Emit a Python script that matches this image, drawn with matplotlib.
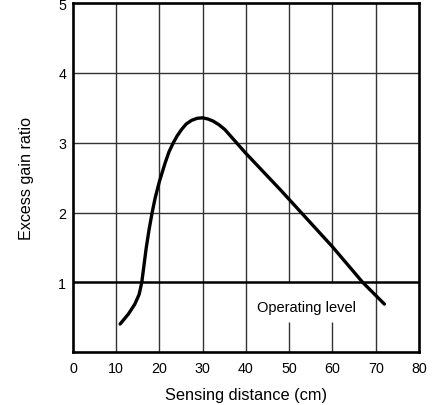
import matplotlib
import numpy as np

matplotlib.use("Agg")
import matplotlib.pyplot as plt

plt.rcParams['font.family'] = ['Liberation Sans', 'DejaVu Sans']

# Data
distance_cm = [10.9, 12.8, 14.3, 15.3, 15.9, 16.3, 16.9, 17.6, 18.3, 19.0, 20.0,
               21.3, 22.2, 23.2, 24.1, 25.1, 26.2, 27.4, 28.7, 30.0, 31.2, 32.4,
               33.7, 35.1, 39.8, 47.9, 60.0, 67.0, 72.0]
gain_ratio = [0.405, 0.547, 0.69, 0.83, 1.00, 1.19, 1.48, 1.76, 2.00, 2.21, 2.45,
              2.71, 2.87, 3.00, 3.10, 3.19, 3.27, 3.32, 3.35, 3.357, 3.34, 3.31,
              3.26, 3.19, 2.86, 2.33, 1.51, 1.00, 0.69]

x_ticks = [0, 10, 20, 30, 40, 50, 60, 70, 80]
y_ticks = [1, 2, 3, 4, 5]
operating_level = 1.0
label_text = "Operating level"

fig = plt.figure(figsize=(4.36, 4.06), dpi=100)
ax = fig.add_axes([0.1674, 0.1298, 0.7936, 0.8602])

ax.set_xlim(0, 80)
ax.set_ylim(0, 5)

# Grid (vertical lines at 50 and 60 are broken by the label)
for xv in x_ticks[1:-1]:
    if xv in (50, 60):
        ax.vlines(xv, 0, 0.43, color='#333333', lw=1.0, zorder=1)
        ax.vlines(xv, operating_level, 5, color='#333333', lw=1.0, zorder=1)
    else:
        ax.vlines(xv, 0, 5, color='#333333', lw=1.0, zorder=1)
for yv in y_ticks[1:-1]:
    ax.hlines(yv, 0, 80, color='#333333', lw=1.0, zorder=1)
ax.hlines(operating_level, 0, 80, color='black', lw=1.8, zorder=2)

ax.plot(distance_cm, gain_ratio, color='black', lw=2.4,
        solid_capstyle='round', solid_joinstyle='round', zorder=3)

ax.text(54, 0.65, label_text, ha='center', va='center', fontsize=10.5)

ax.set_xticks(x_ticks)
ax.set_yticks(y_ticks)
ax.tick_params(length=0, labelsize=10.3)
ax.tick_params(axis='x', pad=6)
ax.tick_params(axis='y', pad=5)
for s in ax.spines.values():
    s.set_linewidth(1.9)

ax.set_xlabel("Sensing distance (cm)", fontsize=11.8, labelpad=9)
ax.set_ylabel("Excess gain ratio", fontsize=11.6, labelpad=17)

plt.savefig("out.png", dpi=100)
